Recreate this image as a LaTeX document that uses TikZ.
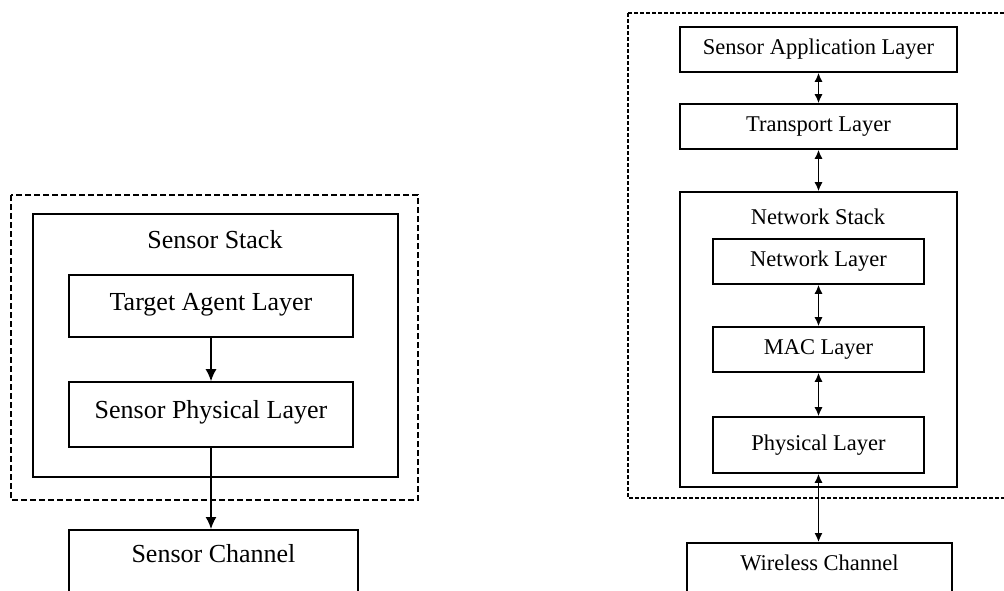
\documentclass[tikz,border=0pt]{standalone}
\usepackage{fontspec}
\setmainfont{Liberation Serif}
\usetikzlibrary{positioning,arrows.meta}

\begin{document}
\begin{tikzpicture}[x=1pt,y=-1pt,
  bigtext/.style={font=\fontsize{26}{30}\selectfont},
  smalltext/.style={font=\fontsize{22.5}{26}\selectfont},
  sensorlayer/.style={draw, line width=1.6pt, inner sep=0pt, bigtext, text height=35pt, text depth=27pt, minimum width=284pt},
  netlayer/.style={draw, line width=1.6pt, inner sep=0pt, smalltext, minimum height=45pt},
  stackbox/.style={draw, line width=1.6pt, inner sep=0pt},
  groupbox/.style={draw, line width=1.5pt, dash pattern=on 6pt off 3pt},
  onelink/.style={line width=1.4pt, -{Latex[length=12pt,width=11pt]}},
  twolink/.style={line width=1.4pt, {Latex[length=9pt,width=8pt]}-{Latex[length=9pt,width=8pt]}}]

\path[use as bounding box, clip] (0,0) rectangle (1004,590);

% sensor node
\draw[groupbox] (11,195) rectangle (418,500);
\node[stackbox, minimum width=365pt, minimum height=263pt] (sensorstack) at (215.5,345.5) {};
\node[bigtext] (sensorstacklabel) at (215,240) {Sensor Stack};
\node[sensorlayer] (target) at (211,306) {Target Agent Layer};
\node[sensorlayer, minimum height=65pt] (sensorphys) at (211,414.5) {Sensor Physical Layer};
\node[draw, line width=1.6pt, bigtext, anchor=north, minimum width=289pt, inner ysep=13pt, text height=20pt, text depth=50pt] (sensorchannel) at (213.5,529) {Sensor Channel};

\draw[onelink] (target) -- (sensorphys);
\draw[onelink] (sensorphys.south) -- (sensorphys.south |- sensorchannel.north);

% wireless node
\draw[groupbox, line width=1.3pt, dash pattern=on 4pt off 2pt] (628,13) rectangle (1012,498);
\node[netlayer, minimum width=277pt] (application) at (818.5,49.5) {Sensor Application Layer};
\node[netlayer, minimum width=277pt] (transport) at (818.5,126.5) {Transport Layer};
\node[stackbox, minimum width=277pt, minimum height=295pt] (networkstack) at (818.5,339.5) {};
\node[smalltext] (networkstacklabel) at (818,217) {Network Stack};
\node[netlayer, minimum width=211pt] (network) at (818.5,261.5) {Network Layer};
\node[netlayer, minimum width=211pt] (mac) at (818.5,349.5) {MAC Layer};
\node[netlayer, minimum width=211pt, minimum height=56pt] (physical) at (818.5,445) {Physical Layer};
\node[draw, line width=1.6pt, smalltext, anchor=north, minimum width=265pt, inner ysep=11pt, text height=17pt, text depth=50pt] (wireless) at (819.5,542) {Wireless Channel};

\draw[twolink] (application) -- (transport);
\draw[twolink] (transport) -- (networkstack.north);
\draw[twolink] (network) -- (mac);
\draw[twolink] (mac) -- (physical);
\draw[twolink] (physical.south) -- (physical.south |- wireless.north);
\end{tikzpicture}
\end{document}
